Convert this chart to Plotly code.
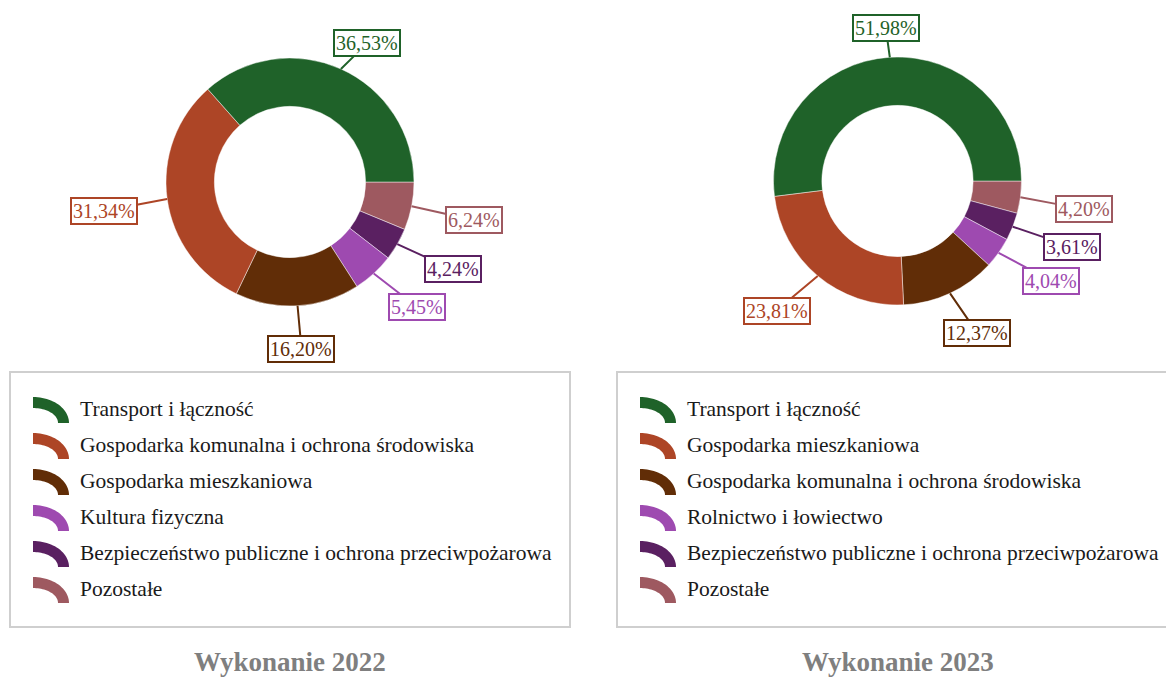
import math
import plotly.graph_objects as go

W, H = 1166, 677

# ---------------- data ----------------
categories_2022 = [
    "Transport i łączność",
    "Gospodarka komunalna i ochrona środowiska",
    "Gospodarka mieszkaniowa",
    "Kultura fizyczna",
    "Bezpieczeństwo publiczne i ochrona przeciwpożarowa",
    "Pozostałe",
]
values_2022 = [36.53, 31.34, 16.20, 5.45, 4.24, 6.24]

categories_2023 = [
    "Transport i łączność",
    "Gospodarka mieszkaniowa",
    "Gospodarka komunalna i ochrona środowiska",
    "Rolnictwo i łowiectwo",
    "Bezpieczeństwo publiczne i ochrona przeciwpożarowa",
    "Pozostałe",
]
values_2023 = [51.98, 23.81, 12.37, 4.04, 3.61, 4.20]

titles = ["Wykonanie 2022", "Wykonanie 2023"]

colors = ["#1F6229", "#AD4526", "#612D07", "#9E4AB0", "#5A2061", "#9E5960"]

# ---------------- layout constants (pixels) ----------------
panels = [
    dict(cx=290, cy=182, box_x0=10, cats=categories_2022, vals=values_2022, title=titles[0]),
    dict(cx=897.5, cy=181, box_x0=617, cats=categories_2023, vals=values_2023, title=titles[1]),
]
R = 124
HOLE = 0.61
BOX_W, BOX_Y0, BOX_Y1 = 560, 372, 627
ROW0, ROW_STEP = 409, 36
SERIF = "Liberation Serif, Times New Roman, serif"


def fmt(v):
    return f"{v:.2f}".replace(".", ",") + "%"


fig = go.Figure()
# invisible cartesian frame in pixel units for shapes / annotations
fig.add_trace(go.Scatter(x=[], y=[], showlegend=False, hoverinfo="skip"))

shapes = []
annotations = []

for p in panels:
    cx, cy = p["cx"], p["cy"]
    vals, cats = p["vals"], p["cats"]
    # pie (clockwise from 3 o'clock with reversed order == counterclockwise original order)
    fig.add_trace(go.Pie(
        labels=cats[::-1], values=vals[::-1],
        marker=dict(colors=colors[::-1], line=dict(color="rgba(255,255,255,0.45)", width=1)),
        sort=False, direction="clockwise", rotation=90, hole=HOLE,
        textinfo="none", showlegend=False,
        domain=dict(x=[(cx - R) / W, (cx + R) / W], y=[1 - (cy + R) / H, 1 - (cy - R) / H]),
    ))

    # value labels with leader lines
    total = sum(vals)
    cum = 0.0
    for v, col in zip(vals, colors):
        mid = math.radians(360 * (cum + v / 2) / total)
        cum += v
        dx, dy = math.cos(mid), -math.sin(mid)
        tipx, tipy = cx + R * dx, cy + R * dy
        annotations.append(dict(
            x=tipx, y=tipy, xref="x", yref="y",
            ax=64 * dx, ay=36 * dy + 7, axref="pixel", ayref="pixel",
            text=fmt(v), showarrow=True, arrowhead=0, arrowwidth=2, arrowcolor=col,
            standoff=0, startstandoff=0,
            font=dict(family=SERIF, size=20, color=col),
            bgcolor="white", bordercolor=col, borderwidth=2, borderpad=1,
        ))

    # legend box
    x0 = p["box_x0"]
    shapes.append(dict(type="rect", xref="x", yref="y", x0=x0, x1=x0 + BOX_W, y0=BOX_Y0, y1=BOX_Y1,
                       line=dict(color="#CFCFCF", width=2), fillcolor="rgba(0,0,0,0)", layer="above"))
    for i, (cat, col) in enumerate(zip(cats, colors)):
        yc = ROW0 + ROW_STEP * i
        bx, by = x0 + 23, yc + 14
        oa, ob, ia, ib = 36, 26, 25, 15
        n = 24
        pts = []
        for k in range(n + 1):
            t = math.radians(90 - 90 * k / n)
            pts.append((bx + oa * math.cos(t), by - ob * math.sin(t)))
        for k in range(n + 1):
            t = math.radians(90 * k / n)
            pts.append((bx + ia * math.cos(t), by - ib * math.sin(t)))
        path = "M " + " L ".join(f"{a:.2f},{b:.2f}" for a, b in pts) + " Z"
        shapes.append(dict(type="path", xref="x", yref="y", path=path,
                           fillcolor=col, line=dict(width=0), layer="above"))
        annotations.append(dict(
            x=x0 + 68, y=yc, xref="x", yref="y", xanchor="left", yanchor="middle",
            text=cat, showarrow=False, font=dict(family=SERIF, size=21.5, color="#1A1A1A"),
        ))

    # title
    annotations.append(dict(
        x=cx, y=662, xref="x", yref="y", xanchor="center", yanchor="middle",
        text=f"<b>{p['title']}</b>", showarrow=False,
        font=dict(family=SERIF, size=27, color="#7F7F7F"),
    ))

fig.update_layout(
    width=W, height=H,
    margin=dict(l=0, r=0, t=0, b=0),
    paper_bgcolor="white", plot_bgcolor="white",
    xaxis=dict(range=[0, W], visible=False, fixedrange=True, domain=[0, 1]),
    yaxis=dict(range=[H, 0], visible=False, fixedrange=True, domain=[0, 1]),
    shapes=shapes, annotations=annotations, showlegend=False,
)

fig.write_html("out.html", config={"displayModeBar": False},
               post_script="document.body.style.margin='0px';")
